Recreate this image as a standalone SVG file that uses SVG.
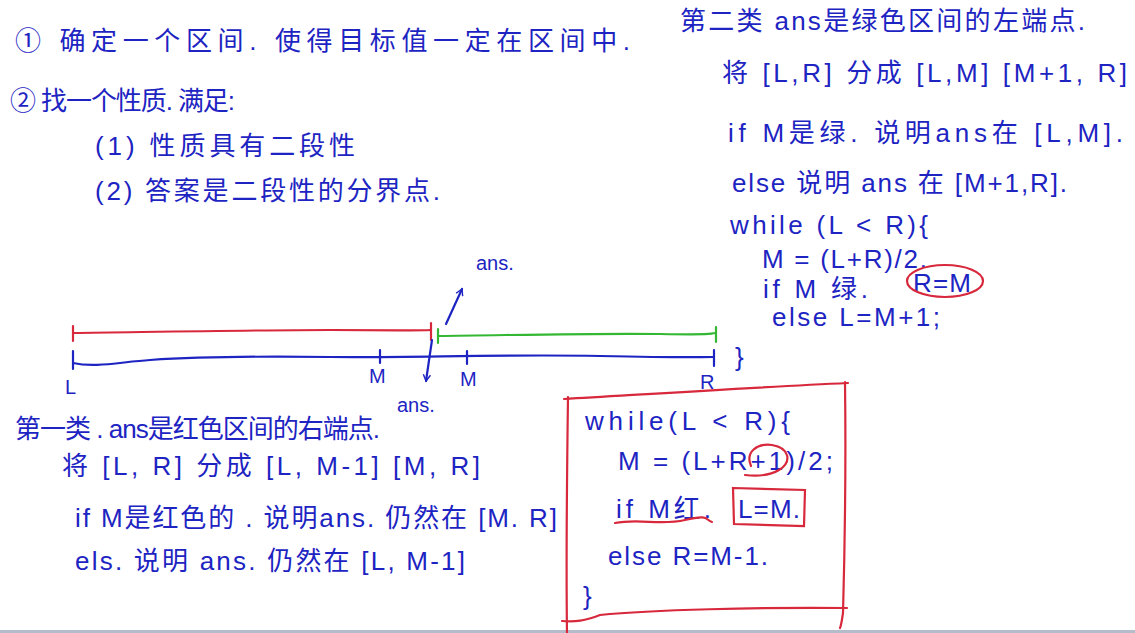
<svg xmlns="http://www.w3.org/2000/svg" width="1135" height="633" viewBox="0 0 1135 633">
<defs>
<style>
.t{font-family:"Liberation Sans","Noto Sans CJK SC",sans-serif;fill:#1d24c2;font-size:26px}
.b{stroke:#1d24c2;stroke-width:2.2;fill:none;stroke-linecap:round}
.r{stroke:#d7283c;stroke-width:2.2;fill:none;stroke-linecap:round}
.g{stroke:#34b834;stroke-width:2.2;fill:none;stroke-linecap:round}
.lab{font-size:20px}
</style>
<marker id="ah" viewBox="0 0 10 10" refX="8" refY="5" markerWidth="9" markerHeight="9" orient="auto-start-reverse" markerUnits="userSpaceOnUse">
<path d="M1,1 L8,5 L1,9" fill="none" stroke="#1d24c2" stroke-width="1.6"/>
</marker>
</defs>
<rect width="1135" height="633" fill="#ffffff"/>
<rect x="0" y="630" width="1135" height="3" fill="#b4bccb"/>

<g id="steps">
<text class="t" x="15" y="50" textLength="615" lengthAdjust="spacing">① 确定一个区间. 使得目标值一定在区间中.</text>
<text class="t" x="10" y="110" textLength="225" lengthAdjust="spacing">② 找一个性质. 满足:</text>
<text class="t" x="95" y="155" textLength="260" lengthAdjust="spacing">(1) 性质具有二段性</text>
<text class="t" x="95" y="200" textLength="345" lengthAdjust="spacing">(2) 答案是二段性的分界点.</text>
</g>

<g id="case2">
<text class="t" x="680" y="30" textLength="405" lengthAdjust="spacing">第二类  ans是绿色区间的左端点.</text>
<text class="t" x="722" y="82" textLength="405" lengthAdjust="spacing">将 [L,R] 分成 [L,M]  [M+1, R]</text>
<text class="t" x="728" y="142" textLength="395" lengthAdjust="spacing">if  M是绿. 说明ans在 [L,M].</text>
<text class="t" x="732" y="192" textLength="335" lengthAdjust="spacing">else  说明 ans 在 [M+1,R].</text>
<text class="t" x="730" y="234" textLength="198" lengthAdjust="spacing">while (L &lt; R){</text>
<text class="t" x="762" y="268" textLength="165" lengthAdjust="spacing">M = (L+R)/2.</text>
<text class="t" x="763" y="298" textLength="105" lengthAdjust="spacing">if M 绿.</text>
<text class="t" x="913" y="292" textLength="58" lengthAdjust="spacing">R=M</text>
<ellipse class="r" cx="945" cy="281" rx="38" ry="16"/>
<text class="t" x="772" y="326" textLength="168" lengthAdjust="spacing">else  L=M+1;</text>
</g>

<g id="numberline">
<path class="r" d="M73,333 C150,332 250,330 330,330 S410,331 431,330"/>
<path class="r" d="M73,326 V341 M431,323 V340"/>
<path class="g" d="M438,336 C520,335 600,333 660,334 S705,334 716,333"/>
<path class="g" d="M438,329 V343 M716,327 V342"/>
<path class="b" d="M73,363 C95,368 120,362 150,360 S250,356 330,357 S500,354 600,356 S690,357 714,357"/>
<path class="b" d="M73,351 V369 M380,350 V363 M467,351 V364 M714,350 V366"/>
<text class="t lab" x="65" y="394" font-size="22">L</text>
<text class="t lab" x="369" y="383">M</text>
<text class="t lab" x="460" y="386">M</text>
<text class="t lab" x="700" y="389">R</text>
<text class="t lab" x="476" y="270">ans.</text>
<text class="t lab" x="397" y="412">ans.</text>
<text class="t" x="735" y="366" font-size="36">}</text>
</g>

<g id="connectors">
<path class="b" d="M446,324 L462,289" marker-end="url(#ah)"/>
<path class="b" d="M432,340 L426,381" marker-end="url(#ah)"/>
</g>

<g id="case1">
<text class="t" x="15" y="438" textLength="365" lengthAdjust="spacing">第一类 . ans是红色区间的右端点.</text>
<text class="t" x="62" y="475" textLength="418" lengthAdjust="spacing">将 [L, R] 分成 [L, M-1] [M, R]</text>
<text class="t" x="75" y="527" textLength="482" lengthAdjust="spacing">if M是红色的 . 说明ans. 仍然在 [M. R]</text>
<text class="t" x="75" y="570" textLength="390" lengthAdjust="spacing">els. 说明 ans. 仍然在 [L, M-1]</text>
</g>

<g id="codebox">
<path class="r" d="M564,399 C650,394 760,387 848,383"/>
<path class="r" d="M568,397 C567,470 566,560 567,633"/>
<path class="r" d="M845,382 C846,460 845,540 843,613 C842,620 841,626 840,628"/>
<path class="r" d="M562,621 C575,622 585,621 600,615 C650,610 760,607 847,608"/>
<text class="t" x="585" y="430" textLength="205" lengthAdjust="spacing" font-size="28">while(L &lt; R){</text>
<text class="t" x="618" y="470" textLength="215" lengthAdjust="spacing" font-size="28">M = (L+R+1)/2;</text>
<path class="r" d="M751,466 C745,452 757,443 772,445 C790,448 792,462 779,470 C769,476 754,476 745,475"/>
<text class="t" x="616" y="518" textLength="95" lengthAdjust="spacing" font-size="28">if M红.</text>
<path class="r" d="M615,523 C640,518 660,526 685,520 S705,520 712,522"/>
<text class="t" x="738" y="518" textLength="62" lengthAdjust="spacing" font-size="28">L=M.</text>
<path class="r" d="M733,488 L805,490 L804,526 L734,524 Z"/>
<text class="t" x="608" y="565" textLength="160" lengthAdjust="spacing" font-size="28">else  R=M-1.</text>
<text class="t" x="583" y="605" font-size="42">}</text>
</g>
</svg>
